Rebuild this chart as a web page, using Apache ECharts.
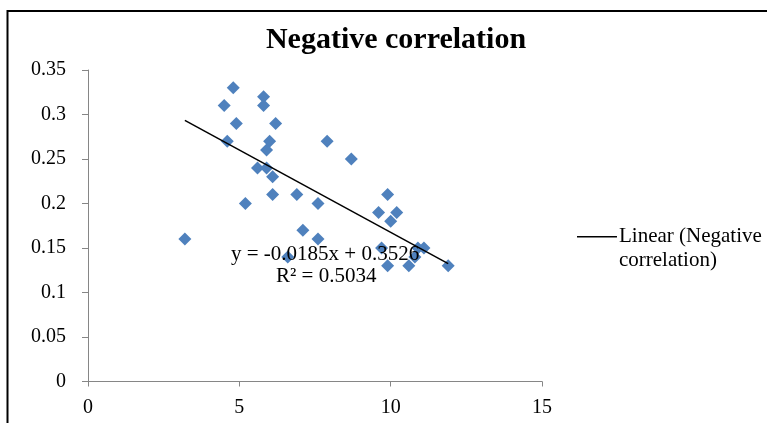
<!DOCTYPE html>
<html>
<head>
<meta charset="utf-8">
<script src="https://cdn.jsdelivr.net/npm/echarts@6/dist/echarts.min.js"></script>
<style>
html,body{margin:0;padding:0;background:#fff;}
#chart{width:767px;height:423px;}
</style>
</head>
<body>
<div id="chart"></div>
<script>
const xValues = [3.2, 4.5, 4.8, 4.9, 4.6, 5.8, 5.8, 6.2, 6.0, 5.9, 5.6, 5.9, 6.1, 6.1, 5.2, 6.6, 6.9, 7.1, 7.6, 7.6, 7.9, 8.7, 9.9, 9.6, 10.2, 10.0, 9.7, 9.9, 10.6, 10.8, 10.9, 11.1, 11.9];
const yValues = [0.16, 0.31, 0.33, 0.29, 0.27, 0.32, 0.31, 0.29, 0.27, 0.26, 0.24, 0.24, 0.23, 0.21, 0.20, 0.14, 0.21, 0.17, 0.20, 0.16, 0.27, 0.25, 0.21, 0.19, 0.19, 0.18, 0.15, 0.13, 0.13, 0.14, 0.15, 0.15, 0.13];
const trendX = [3.2, 11.9];
const trendY = [0.2934, 0.1325];
const xTicks = [0, 5, 10, 15];
const yTicks = [0, 0.05, 0.1, 0.15, 0.2, 0.25, 0.3, 0.35];
const titleText = 'Negative correlation';
const legendText = 'Linear (Negative\ncorrelation)';
const eqText = 'y = -0.0185x + 0.3526';
const r2Text = 'R² = 0.5034';

const serif = '"Liberation Serif", "Times New Roman", serif';
const points = xValues.map((x, i) => [x, yValues[i]]);
const trend = trendX.map((x, i) => [x, trendY[i]]);

const chart = echarts.init(document.getElementById('chart'), null, {renderer: 'canvas'});
chart.setOption({
  animation: false,
  backgroundColor: '#fff',
  title: {
    text: titleText,
    left: 391, top: 20, textAlign: 'center',
    textStyle: {fontFamily: serif, fontSize: 30, fontWeight: 'bold', color: '#000'}
  },
  grid: {left: 88, right: 225, top: 70, bottom: 41.5, containLabel: false},
  xAxis: {
    type: 'value', min: xTicks[0], max: xTicks[xTicks.length - 1], interval: 5,
    splitLine: {show: false},
    axisLine: {lineStyle: {color: '#868686', width: 1}},
    axisTick: {show: true, length: 5, lineStyle: {color: '#868686'}},
    axisLabel: {fontFamily: serif, fontSize: 20, color: '#000', margin: 16}
  },
  yAxis: {
    type: 'value', min: yTicks[0], max: yTicks[yTicks.length - 1], interval: 0.05,
    splitLine: {show: false},
    axisLine: {show: true, lineStyle: {color: '#868686', width: 1}},
    axisTick: {show: true, length: 6, lineStyle: {color: '#868686'}},
    axisLabel: {fontFamily: serif, fontSize: 20, color: '#000', margin: 22,
      formatter: v => String(Math.round(v * 100) / 100)}
  },
  legend: {
    show: true, left: 572, top: 219, orient: 'vertical',
    data: [{name: 'Linear (Negative correlation)', icon: 'path://M0,0H40V1.5H0Z M0,24H0.01V24.01H0Z'}],
    itemWidth: 40, itemHeight: 24, itemGap: 0,
    formatter: () => legendText,
    textStyle: {fontFamily: serif, fontSize: 21, color: '#000', lineHeight: 24, padding: [0, 0, 0, -3]}
  },
  series: [
    {
      name: 'Negative correlation', type: 'scatter', data: points,
      symbol: 'diamond', symbolSize: 13,
      itemStyle: {color: '#4F81BD', opacity: 1}
    },
    {
      name: 'Linear (Negative correlation)', type: 'line', data: trend,
      symbol: 'none', lineStyle: {color: '#000', width: 1.5},
      itemStyle: {color: '#000'}, z: 3
    }
  ],
  graphic: [
    {type: 'polyline', shape: {points: [[7.5, 423], [7.5, 11], [767, 11]]},
     style: {stroke: '#000', lineWidth: 2, fill: null}, silent: true},
    {type: 'text', left: 231, top: 244,
     style: {text: eqText, font: '21px ' + serif, fill: '#000'}, z: 10},
    {type: 'text', left: 276, top: 266,
     style: {text: r2Text, font: '21px ' + serif, fill: '#000'}, z: 10}
  ]
});
</script>
</body>
</html>
